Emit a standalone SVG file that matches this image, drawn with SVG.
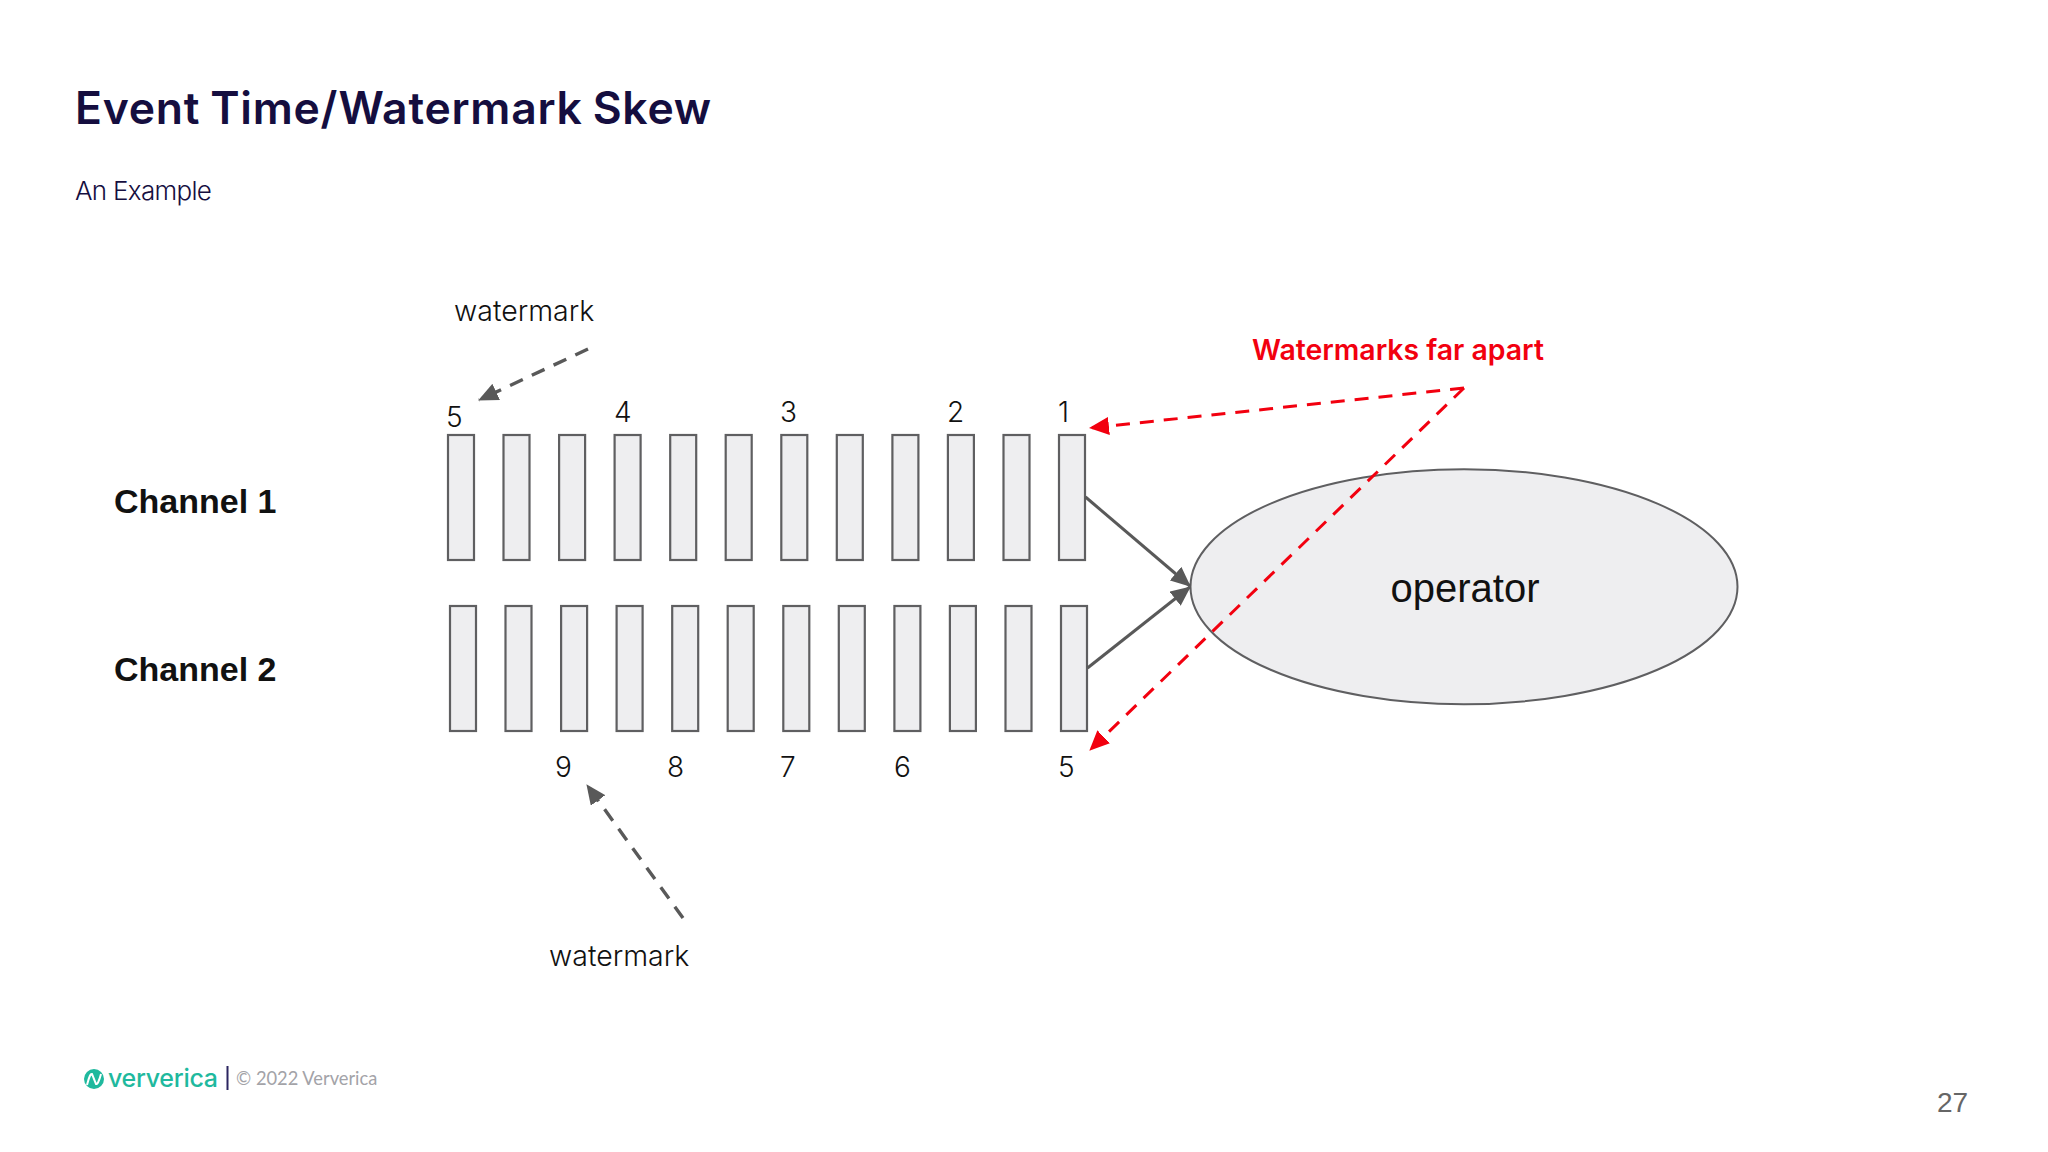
<svg xmlns="http://www.w3.org/2000/svg" width="2048" height="1152" viewBox="0 0 2048 1152">
<style>
.bar{fill:#eeeef0;stroke:#5f5f61;stroke-width:2.2}
.num{font-family:Inter,"Noto Sans",sans-serif;font-size:28px;font-weight:300;fill:#111}
.wm{font-family:Inter,"Noto Sans",sans-serif;font-size:28.5px;font-weight:300;fill:#111}
.ch{font-family:"Liberation Sans",Arial,sans-serif;font-size:34px;font-weight:700;fill:#111}
.g{fill:none;stroke:#595959;stroke-width:3}
.gd{fill:none;stroke:#595959;stroke-width:3.4;stroke-dasharray:14 10}
.r{fill:none;stroke:#f2000f;stroke-width:3;stroke-dasharray:14 10}
</style>
<defs>
<marker id="ag" markerUnits="userSpaceOnUse" markerWidth="20" markerHeight="18" refX="19" refY="9" orient="auto"><path d="M0 0L20 9L0 18Z" fill="#595959"/></marker>
<marker id="ar" markerUnits="userSpaceOnUse" markerWidth="20" markerHeight="18" refX="19" refY="9" orient="auto"><path d="M0 0L20 9L0 18Z" fill="#f2000f"/></marker>
</defs>
<rect width="2048" height="1152" fill="#fff"/>
<g id="header">
<text x="75" y="124" font-family="Inter,sans-serif" font-size="44.5" font-weight="600" fill="#150e3f" letter-spacing="0.75" word-spacing="-2">Event Time/Watermark Skew</text>
<text x="75" y="200" font-family="Inter,sans-serif" font-size="26" font-weight="300" fill="#150e3f" letter-spacing="-0.7">An Example</text>
</g>
<g id="channel1">
<text class="ch" x="114" y="513">Channel 1</text>
<rect class="bar" x="448" y="435" width="26" height="125"/><rect class="bar" x="503.500" y="435" width="26" height="125"/><rect class="bar" x="559.100" y="435" width="26" height="125"/><rect class="bar" x="614.600" y="435" width="26" height="125"/><rect class="bar" x="670.200" y="435" width="26" height="125"/><rect class="bar" x="725.700" y="435" width="26" height="125"/><rect class="bar" x="781.300" y="435" width="26" height="125"/><rect class="bar" x="836.800" y="435" width="26" height="125"/><rect class="bar" x="892.400" y="435" width="26" height="125"/><rect class="bar" x="947.900" y="435" width="26" height="125"/><rect class="bar" x="1003.500" y="435" width="26" height="125"/><rect class="bar" x="1059" y="435" width="26" height="125"/>
<text class="num" x="446" y="427">5</text><text class="num" x="614" y="422">4</text><text class="num" x="780" y="422">3</text><text class="num" x="947" y="422">2</text><text class="num" x="1058" y="422">1</text>
</g>
<g id="channel2">
<text class="ch" x="114" y="681">Channel 2</text>
<rect class="bar" x="450" y="606" width="26" height="125"/><rect class="bar" x="505.500" y="606" width="26" height="125"/><rect class="bar" x="561.100" y="606" width="26" height="125"/><rect class="bar" x="616.600" y="606" width="26" height="125"/><rect class="bar" x="672.200" y="606" width="26" height="125"/><rect class="bar" x="727.700" y="606" width="26" height="125"/><rect class="bar" x="783.300" y="606" width="26" height="125"/><rect class="bar" x="838.800" y="606" width="26" height="125"/><rect class="bar" x="894.400" y="606" width="26" height="125"/><rect class="bar" x="949.900" y="606" width="26" height="125"/><rect class="bar" x="1005.500" y="606" width="26" height="125"/><rect class="bar" x="1061" y="606" width="26" height="125"/>
<text class="num" x="555" y="777">9</text><text class="num" x="667" y="777">8</text><text class="num" x="780" y="777">7</text><text class="num" x="894" y="777">6</text><text class="num" x="1058" y="777">5</text>
</g>
<g id="operator">
<ellipse cx="1464" cy="586.700" rx="273.500" ry="117.500" fill="#eeeef0" stroke="#5f5f61" stroke-width="2"/>
<text x="1465" y="602" text-anchor="middle" font-family="Liberation Sans,Arial,sans-serif" font-size="40" fill="#111">operator</text>
</g>
<g id="labels">
<text class="wm" x="454" y="321">watermark</text>
<text class="wm" x="549" y="966">watermark</text>
<text x="1252" y="360" font-family="Inter,sans-serif" font-size="28.400" font-weight="600" fill="#f2000f">Watermarks far apart</text>
</g>
<g id="connectors">
<path class="g" d="M1085.500 497L1190 586" marker-end="url(#ag)"/>
<path class="g" d="M1087.500 668L1190 587" marker-end="url(#ag)"/>
<path class="gd" d="M588 349L479 400" marker-end="url(#ag)"/>
<path class="gd" d="M683 918L587 785" marker-end="url(#ag)"/>
<path class="r" d="M1464 388L1090 428" marker-end="url(#ar)"/>
<path class="r" d="M1464 388L1090 750" marker-end="url(#ar)"/>
</g>
<g id="footer">
<circle cx="94" cy="1079" r="10" fill="#1fb99e"/>
<path d="M87 1085Q90 1073 92 1074L96 1084Q98 1085 101 1074" fill="none" stroke="#fff" stroke-width="2"/>
<text x="108" y="1087" font-family="Inter,sans-serif" font-size="25" font-weight="500" fill="#1fb99e" letter-spacing="-0.3">ververica</text>
<rect x="226.500" y="1066" width="2" height="24" fill="#2b2560"/>
<text x="236" y="1085" font-family="Lato,sans-serif" font-size="18.300" fill="#a3a3a8">© 2022 Ververica</text>
<text x="1937" y="1112" font-family="Liberation Sans,Arial,sans-serif" font-size="28" fill="#666">27</text>
</g>
</svg>
